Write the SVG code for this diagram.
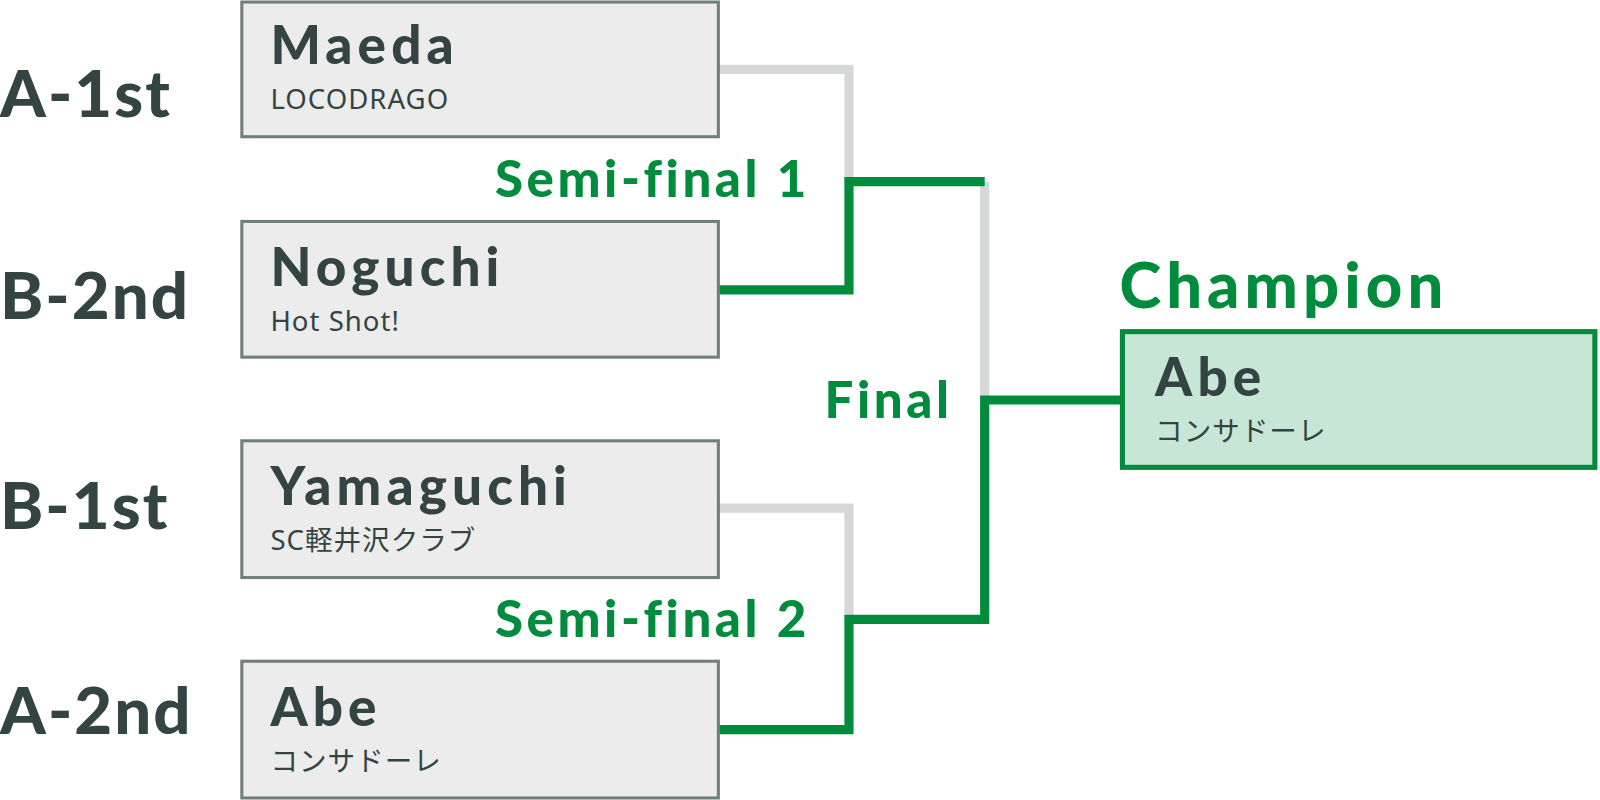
<svg xmlns="http://www.w3.org/2000/svg" width="1600" height="800" viewBox="0 0 1600 800">
<style>
.box{fill:#ebeceb;stroke:#6f7f7c;stroke-width:3}
.name{font-family:Lato,"Liberation Sans",sans-serif;font-weight:900;font-size:52px;letter-spacing:5px;fill:#334443}
.team{font-family:"Noto Sans","Noto Sans CJK JP",sans-serif;font-size:27px;letter-spacing:1px;fill:#334443}
.seed{font-family:Lato,"Liberation Sans",sans-serif;font-weight:900;font-size:64px;letter-spacing:2px;fill:#334443}
.rl{font-family:Lato,"Liberation Sans",sans-serif;font-weight:900;font-size:50px;letter-spacing:3.5px;fill:#008c3c}
.g{fill:none;stroke:#d5d8d7;stroke-width:9}
.w{fill:none;stroke:#008c3c;stroke-width:9}
</style>
<g transform="scale(1.0204)">
<g id="connectors">
<polyline class="g" points="704,68 832,68 832,178"/>
<polyline class="g" points="965,178 965,392"/>
<polyline class="g" points="704,498 832,498 832,607"/>
<polyline class="w" points="704,284 832,284 832,178 965,178"/>
<polyline class="w" points="704,715 832,715 832,607 965,607 965,392 1100,392"/>
</g>
<g id="seeds">
<text class="seed" x="0" y="115">A-1st</text>
<text class="seed" x="0" y="313">B-2nd</text>
<text class="seed" x="0" y="518">B-1st</text>
<text class="seed" x="0" y="719">A-2nd</text>
</g>
<g id="m1"><rect class="box" x="237" y="2" width="467" height="132"/><text class="name" x="265" y="63">Maeda</text><text class="team" x="265" y="107">LOCODRAGO</text></g>
<g id="m2"><rect class="box" x="237" y="217" width="467" height="133"/><text class="name" x="265" y="280">Noguchi</text><text class="team" x="265" y="324">Hot Shot!</text></g>
<g id="m3"><rect class="box" x="237" y="432" width="467" height="134"/><text class="name" x="265" y="495">Yamaguchi</text><text class="team" x="265" y="539">SC軽井沢クラブ</text></g>
<g id="m4"><rect class="box" x="237" y="648" width="467" height="134"/><text class="name" x="265" y="711">Abe</text><text class="team" x="265" y="756">コンサドーレ</text></g>
<g id="labels">
<text class="rl" x="485" y="193">Semi-final 1</text>
<text class="rl" x="485" y="624">Semi-final 2</text>
<text class="rl" x="808" y="410">Final</text>
<text class="rl" x="1097" y="302" style="font-size:62px;letter-spacing:5px">Champion</text>
</g>
<g id="champion"><rect x="1100" y="325" width="463" height="133" fill="#c8e6d6" stroke="#008c3c" stroke-width="5"/><text class="name" x="1132" y="388">Abe</text><text class="team" x="1132" y="432">コンサドーレ</text></g>
</g>
</svg>
